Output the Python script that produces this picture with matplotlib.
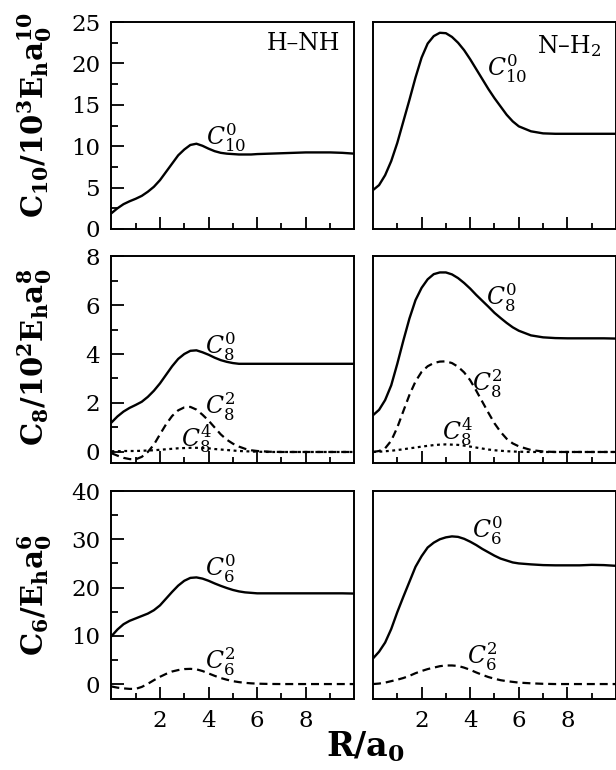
import matplotlib
matplotlib.use("Agg")
import matplotlib.pyplot as plt
from matplotlib.ticker import FixedLocator

plt.rcParams['font.family'] = 'DejaVu Serif'
plt.rcParams['mathtext.fontset'] = 'dejavuserif'

# R grid (a0) the curves were read at
R = [0, 0.25, 0.5, 0.75, 1.0, 1.25, 1.5, 1.75, 2.0, 2.25, 2.5, 2.75, 3.0,
     3.25, 3.5, 3.75, 4.0, 4.25, 4.5, 4.75, 5.0, 5.25, 5.5, 5.75, 6.0,
     6.5, 7.0, 7.5, 8.0, 8.5, 9.0, 9.5, 10.0]

# H-NH
hnh_c10_0 = [1.9, 2.5, 3.0, 3.35, 3.65, 4.0, 4.5, 5.1, 5.9, 6.9, 7.9, 8.9, 9.6,
             10.15, 10.3, 10.05, 9.7, 9.4, 9.2, 9.1, 9.05, 9.0, 9.0, 9.0, 9.05,
             9.1, 9.15, 9.2, 9.25, 9.25, 9.25, 9.2, 9.1]
hnh_c8_0 = [1.2, 1.45, 1.65, 1.8, 1.92, 2.05, 2.25, 2.5, 2.8, 3.15, 3.5, 3.8, 4.0,
            4.13, 4.15, 4.07, 3.97, 3.85, 3.75, 3.68, 3.63, 3.6, 3.6, 3.6, 3.6,
            3.6, 3.6, 3.6, 3.6, 3.6, 3.6, 3.6, 3.6]
hnh_c8_2 = [-0.05, -0.15, -0.24, -0.29, -0.3, -0.2, 0.0, 0.3, 0.72, 1.13, 1.47, 1.7, 1.82,
            1.84, 1.73, 1.52, 1.28, 1.0, 0.72, 0.5, 0.34, 0.22, 0.13, 0.07, 0.04,
            0.01, 0, 0, 0, 0, 0, 0, 0]
hnh_c8_4 = [0.03, 0.03, 0.04, 0.04, 0.04, 0.05, 0.06, 0.07, 0.09, 0.11, 0.13, 0.15, 0.16,
            0.17, 0.17, 0.16, 0.15, 0.12, 0.1, 0.08, 0.06, 0.04, 0.03, 0.02, 0.01,
            0, 0, 0, 0, 0, 0, 0, 0]
hnh_c6_0 = [9.9, 11.3, 12.4, 13.1, 13.6, 14.1, 14.6, 15.3, 16.3, 17.7, 19.1, 20.4, 21.4,
            22.0, 22.1, 21.85, 21.4, 20.85, 20.35, 19.9, 19.5, 19.2, 19.0, 18.9, 18.8,
            18.8, 18.8, 18.8, 18.8, 18.8, 18.8, 18.8, 18.75]
hnh_c6_2 = [-0.5, -0.75, -0.9, -1.0, -1.0, -0.6, 0.05, 0.8, 1.5, 2.1, 2.6, 2.9, 3.1,
            3.15, 3.05, 2.7, 2.2, 1.7, 1.25, 0.9, 0.6, 0.4, 0.25, 0.15, 0.08,
            0.02, 0, 0, 0, 0, 0, 0, 0]

# N-H2
nh2_c10_0 = [4.7, 5.3, 6.5, 8.2, 10.4, 13.0, 15.6, 18.3, 20.7, 22.4, 23.3, 23.7, 23.65,
             23.2, 22.5, 21.6, 20.5, 19.3, 18.1, 16.9, 15.8, 14.8, 13.8, 13.0, 12.4,
             11.8, 11.55, 11.5, 11.5, 11.5, 11.5, 11.5, 11.5]
nh2_c8_0 = [1.5, 1.72, 2.12, 2.72, 3.6, 4.55, 5.45, 6.2, 6.7, 7.05, 7.26, 7.33, 7.33,
            7.25, 7.1, 6.9, 6.67, 6.41, 6.17, 5.93, 5.68, 5.47, 5.27, 5.09, 4.95,
            4.76, 4.68, 4.65, 4.64, 4.64, 4.64, 4.64, 4.63]
nh2_c8_2 = [0.0, 0.04, 0.15, 0.46, 1.0, 1.67, 2.33, 2.88, 3.27, 3.5, 3.63, 3.69, 3.7,
            3.63, 3.48, 3.25, 2.93, 2.5, 2.05, 1.6, 1.17, 0.82, 0.54, 0.35, 0.23,
            0.08, 0.02, 0, 0, 0, 0, 0, 0]
nh2_c8_4 = [0.0, 0.01, 0.03, 0.05, 0.08, 0.11, 0.15, 0.18, 0.22, 0.25, 0.28, 0.3, 0.31,
            0.3, 0.29, 0.26, 0.22, 0.18, 0.14, 0.1, 0.07, 0.05, 0.03, 0.02, 0.01,
            0, 0, 0, 0, 0, 0, 0, 0]
nh2_c6_0 = [5.3, 6.7, 8.6, 11.4, 14.9, 18.1, 21.2, 24.3, 26.5, 28.3, 29.3, 30.0, 30.4,
            30.6, 30.5, 30.1, 29.5, 28.8, 28.0, 27.3, 26.6, 26.0, 25.6, 25.2, 25.0,
            24.8, 24.65, 24.6, 24.6, 24.6, 24.7, 24.65, 24.5]
nh2_c6_2 = [0.0, 0.1, 0.3, 0.6, 0.9, 1.25, 1.7, 2.25, 2.7, 3.1, 3.4, 3.7, 3.85,
            3.85, 3.75, 3.4, 2.95, 2.4, 1.9, 1.45, 1.1, 0.8, 0.6, 0.45, 0.3,
            0.15, 0.05, 0, 0, 0, 0, 0, 0]

ylabels = [r'$\mathbf{C_{10}/10^3E_h a_0^{10}}$',
           r'$\mathbf{C_8/10^2E_h a_0^8}$',
           r'$\mathbf{C_6/E_h a_0^6}$']
ylims = [(0, 25), (-0.45, 8), (-3.1, 40)]
ymajor = [[0, 5, 10, 15, 20, 25], [0, 2, 4, 6, 8], [0, 10, 20, 30, 40]]
yminor = [[2.5, 7.5, 12.5, 17.5, 22.5], [1, 3, 5, 7], [5, 15, 25, 35]]
ylab_y = [0.850, 0.536, 0.227]

solid = dict(color='black', lw=1.7, solid_joinstyle='round')
dashed = dict(color='black', lw=1.6, dashes=(3.6, 2.2))
dotted = dict(color='black', lw=1.6, dashes=(1.3, 1.6))

fig = plt.figure(figsize=(6.16, 7.7), dpi=100)

lefts = [0.1808, 0.6055]
bottoms = [0.7026, 0.3987, 0.0922]
heights = [0.2688, 0.2688, 0.2701]
w = 0.3945

axes = [[None, None] for _ in range(3)]
for r in range(3):
    for c in range(2):
        ax = fig.add_axes([lefts[c], bottoms[r], w, heights[r]])
        axes[r][c] = ax
        ax.set_xlim(0, 10)
        ax.set_ylim(*ylims[r])
        ax.xaxis.set_major_locator(FixedLocator([2, 4, 6, 8]))
        ax.xaxis.set_minor_locator(FixedLocator([1, 3, 5, 7, 9]))
        ax.yaxis.set_major_locator(FixedLocator(ymajor[r]))
        ax.yaxis.set_minor_locator(FixedLocator(yminor[r]))
        ax.tick_params(which='both', direction='in', top=False, right=False,
                       labelsize=16.5, pad=8, width=1.3)
        ax.tick_params(axis='x', which='major', length=8.6)
        ax.tick_params(axis='x', which='minor', length=4.3)
        ax.tick_params(axis='y', which='major', length=9.4)
        ax.tick_params(axis='y', which='minor', length=5)
        if r < 2:
            ax.tick_params(axis='x', labelbottom=False)
        if c == 1:
            ax.tick_params(axis='y', which='both', left=False, labelleft=False)
        for s in ax.spines.values():
            s.set_linewidth(1.4)

lab = dict(fontsize=17, ha='center', va='center')

# top row: C10
ax = axes[0][0]
ax.plot(R, hnh_c10_0, **solid)
ax.text(4.7, 11.0, r'$C^{\mathit{0}}_{\mathit{10}}$', **lab)
ax.text(0.94, 0.895, 'H–NH', transform=ax.transAxes, fontsize=17, ha='right', va='center')
ax = axes[0][1]
ax.plot(R, nh2_c10_0, **solid)
ax.text(5.5, 19.3, r'$C^{\mathit{0}}_{\mathit{10}}$', **lab)
ax.text(0.94, 0.885, r'N–H$_2$', transform=ax.transAxes, fontsize=17, ha='right', va='center')

# middle row: C8
ax = axes[1][0]
ax.plot(R, hnh_c8_0, **solid)
ax.plot(R, hnh_c8_2, **dashed)
ax.plot(R, hnh_c8_4, **dotted)
ax.text(4.5, 4.27, r'$C^{\mathit{0}}_{\mathit{8}}$', **lab)
ax.text(4.5, 1.82, r'$C^{\mathit{2}}_{\mathit{8}}$', **lab)
ax.text(3.5, 0.56, r'$C^{\mathit{4}}_{\mathit{8}}$', **lab)
ax = axes[1][1]
ax.plot(R, nh2_c8_0, **solid)
ax.plot(R, nh2_c8_2, **dashed)
ax.plot(R, nh2_c8_4, **dotted)
ax.text(5.3, 6.3, r'$C^{\mathit{0}}_{\mathit{8}}$', **lab)
ax.text(4.7, 2.76, r'$C^{\mathit{2}}_{\mathit{8}}$', **lab)
ax.text(3.5, 0.84, r'$C^{\mathit{4}}_{\mathit{8}}$', **lab)

# bottom row: C6
ax = axes[2][0]
ax.plot(R, hnh_c6_0, **solid)
ax.plot(R, hnh_c6_2, **dashed)
ax.text(4.5, 23.8, r'$C^{\mathit{0}}_{\mathit{6}}$', **lab)
ax.text(4.5, 4.55, r'$C^{\mathit{2}}_{\mathit{6}}$', **lab)
ax = axes[2][1]
ax.plot(R, nh2_c6_0, **solid)
ax.plot(R, nh2_c6_2, **dashed)
ax.text(4.7, 31.7, r'$C^{\mathit{0}}_{\mathit{6}}$', **lab)
ax.text(4.5, 5.6, r'$C^{\mathit{2}}_{\mathit{6}}$', **lab)

for r in range(3):
    fig.text(0.088, ylab_y[r], ylabels[r], rotation=90, fontsize=21,
             ha='right', va='center')

fig.text(366 / 616, 1 - 747 / 770, r'$\mathbf{R/a_0}$', fontsize=24,
         ha='center', va='center')

fig.savefig('out.png', dpi=100)
